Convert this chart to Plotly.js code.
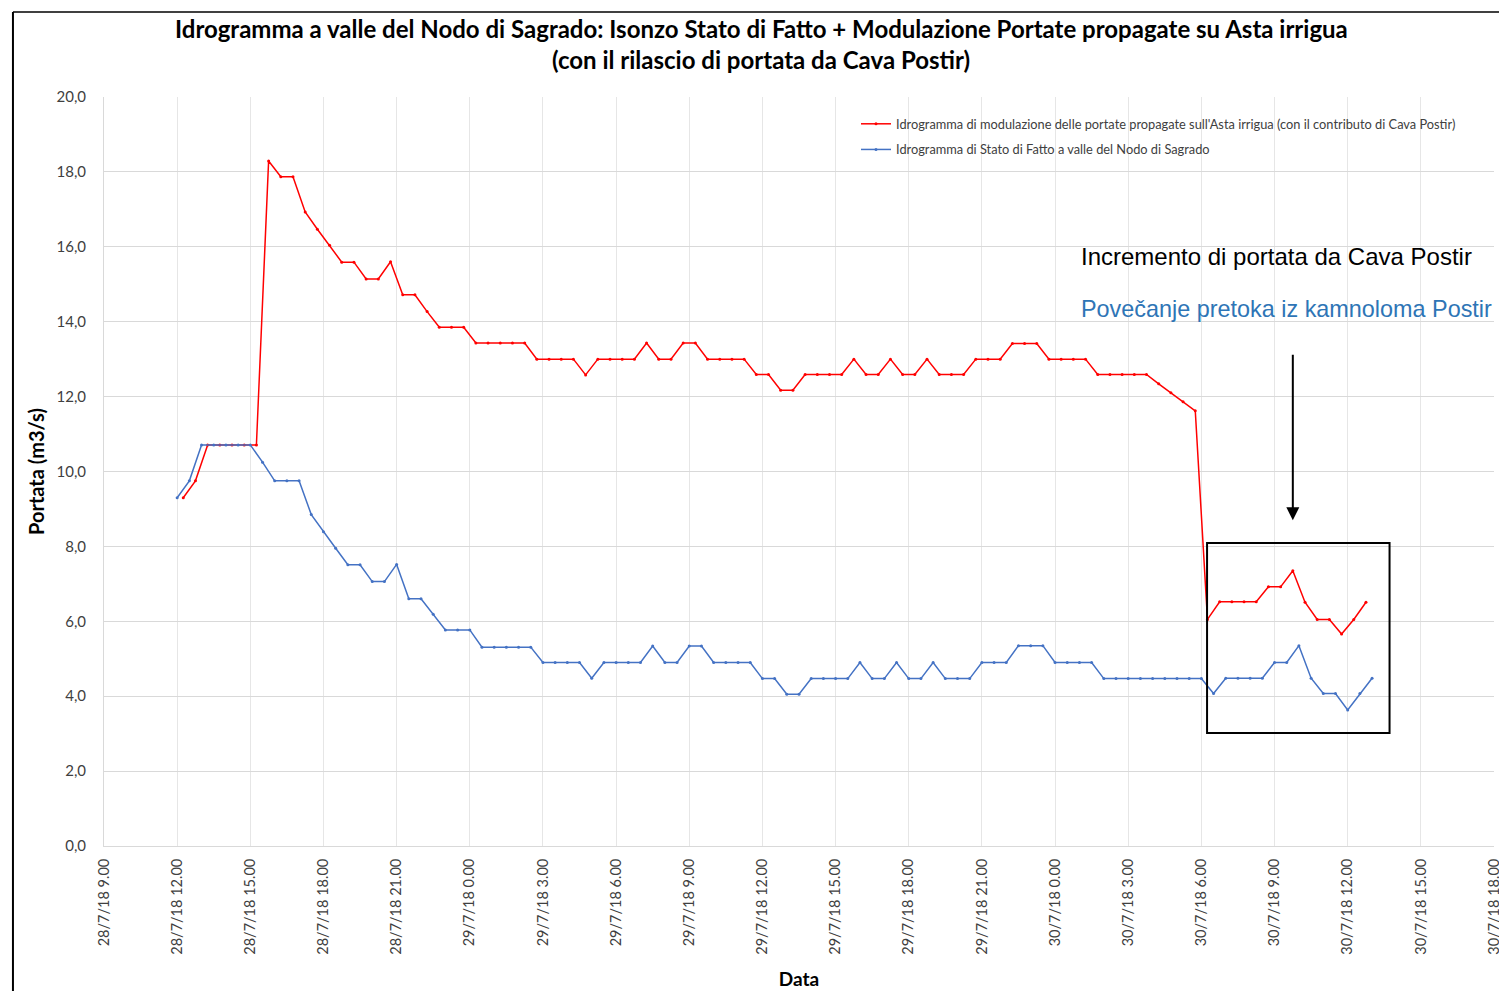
<!DOCTYPE html>
<html>
<head>
<meta charset="utf-8">
<script src="https://cdn.plot.ly/plotly-3.0.1.min.js"></script>
<style>html,body{margin:0;padding:0;background:#fff;}#chart{width:1499px;height:991px;}</style>
</head>
<body>
<div id="chart"></div>
<script>
// Series start times and sampling step (30 minutes)
const redStart = '2018-07-28 12:15';
const blueStart = '2018-07-28 12:00';
const stepMinutes = 30;

// Idrogramma di modulazione delle portate propagate sull'Asta irrigua (con il contributo di Cava Postir)
const redValues = [
  9.30, 9.75, 10.71, 10.71, 10.71, 10.71, 10.71, 18.29, 17.87, 17.87,
  16.93, 16.47, 16.04, 15.59, 15.59, 15.14, 15.14, 15.60, 14.72, 14.72,
  14.27, 13.85, 13.85, 13.85, 13.43, 13.43, 13.43, 13.43, 13.43, 13.00,
  13.00, 13.00, 13.00, 12.58, 13.00, 13.00, 13.00, 13.00, 13.43, 13.00,
  13.00, 13.43, 13.43, 13.00, 13.00, 13.00, 13.00, 12.59, 12.59, 12.17,
  12.17, 12.59, 12.59, 12.59, 12.59, 13.00, 12.59, 12.59, 13.00, 12.59,
  12.59, 13.00, 12.59, 12.59, 12.59, 13.00, 13.00, 13.00, 13.42, 13.42,
  13.42, 13.00, 13.00, 13.00, 13.00, 12.59, 12.59, 12.59, 12.59, 12.59,
  12.34, 12.10, 11.86, 11.62, 6.05, 6.52, 6.52, 6.52, 6.52, 6.92,
  6.92, 7.35, 6.51, 6.05, 6.05, 5.66, 6.05, 6.51
];

// Idrogramma di Stato di Fatto a valle del Nodo di Sagrado
const blueValues = [
  9.30, 9.75, 10.71, 10.71, 10.71, 10.71, 10.71, 10.25, 9.75, 9.75,
  9.75, 8.85, 8.39, 7.95, 7.51, 7.51, 7.06, 7.06, 7.52, 6.60,
  6.60, 6.19, 5.77, 5.77, 5.77, 5.31, 5.31, 5.31, 5.31, 5.31,
  4.90, 4.90, 4.90, 4.90, 4.48, 4.90, 4.90, 4.90, 4.90, 5.34,
  4.90, 4.90, 5.34, 5.34, 4.90, 4.90, 4.90, 4.90, 4.47, 4.47,
  4.05, 4.05, 4.47, 4.47, 4.47, 4.47, 4.90, 4.47, 4.47, 4.90,
  4.47, 4.47, 4.90, 4.47, 4.47, 4.47, 4.90, 4.90, 4.90, 5.35,
  5.35, 5.35, 4.90, 4.90, 4.90, 4.90, 4.47, 4.47, 4.47, 4.47,
  4.47, 4.47, 4.47, 4.47, 4.47, 4.07, 4.48, 4.48, 4.48, 4.48,
  4.90, 4.90, 5.35, 4.48, 4.07, 4.07, 3.63, 4.07, 4.48
];

const redName = "Idrogramma di modulazione delle portate propagate sull'Asta irrigua (con il contributo di Cava Postir)";
const blueName = "Idrogramma di Stato di Fatto a valle del Nodo di Sagrado";

const titleLine1 = "Idrogramma a valle del Nodo di Sagrado: Isonzo Stato di Fatto + Modulazione Portate propagate su Asta irrigua";
const titleLine2 = "(con il rilascio di portata da Cava Postir)";
const yTitle = "Portata (m3/s)";
const xTitle = "Data";
const note1 = "Incremento di portata da Cava Postir";
const note2 = "Povečanje pretoka iz kamnoloma Postir";

function timeAxis(start, n) {
  const p = start.split(/[- :]/).map(Number);
  const base = Date.UTC(p[0], p[1] - 1, p[2], p[3], p[4]);
  const out = [];
  for (let i = 0; i < n; i++) {
    out.push(new Date(base + i * stepMinutes * 60000).toISOString().slice(0, 16).replace('T', ' '));
  }
  return out;
}

const FONT = 'Lato, "Open Sans", sans-serif';
const TITLEFONT = {family: FONT, size: 24, color: '#000000', weight: 'bold'};

const traces = [
  {
    x: timeAxis(redStart, redValues.length), y: redValues, name: redName,
    type: 'scatter', mode: 'lines+markers', legendgroup: 'a',
    line: {color: '#ff0000', width: 1.5}, marker: {color: '#ff0000', size: 3}
  },
  {
    x: timeAxis(blueStart, blueValues.length), y: blueValues, name: blueName,
    type: 'scatter', mode: 'lines+markers', legendgroup: 'b',
    line: {color: '#4472c4', width: 1.5}, marker: {color: '#4472c4', size: 3}
  }
];

const layout = {
  width: 1499, height: 991,
  margin: {l: 104, r: 5, t: 97, b: 145},
  paper_bgcolor: '#ffffff', plot_bgcolor: '#ffffff',
  separators: ',.',
  font: {family: FONT, color: '#404040'},
  showlegend: true,
  legend: {x: 0.541, y: 0.984, xanchor: 'left', yanchor: 'top', bgcolor: 'rgba(0,0,0,0)',
           font: {family: FONT, size: 12.8, color: '#404040'}, tracegroupgap: 6, traceorder: 'grouped'},
  xaxis: {
    type: 'date',
    range: ['2018-07-28 09:00', '2018-07-30 18:00'],
    tick0: '2018-07-28 09:00', dtick: 3 * 3600000,
    tickformat: '%-d/%-m/%y %-H.%M', tickangle: -90,
    tickfont: {family: FONT, size: 14.5, color: '#404040'},
    ticklabeloverflow: 'allow',
    ticks: 'outside', ticklen: 6, tickcolor: 'rgba(0,0,0,0)',
    showgrid: true, gridcolor: '#e6e6e6', gridwidth: 1,
    showline: true, linecolor: '#d9d9d9', linewidth: 1,
    zeroline: false,
    title: {text: xTitle, font: {family: FONT, size: 19, color: '#000000', weight: 'bold'}, standoff: 18}
  },
  yaxis: {
    range: [0, 20], dtick: 2, tickformat: '.1f',
    tickfont: {family: FONT, size: 15, color: '#404040'},
    ticks: 'outside', ticklen: 14, tickcolor: 'rgba(0,0,0,0)',
    showgrid: true, gridcolor: '#d9d9d9', gridwidth: 1,
    showline: true, linecolor: '#d9d9d9', linewidth: 1,
    zeroline: false,
    title: {text: yTitle, font: {family: FONT, size: 20, color: '#000000', weight: 'bold'}, standoff: 6}
  },
  shapes: [
    {type: 'rect', xref: 'x', yref: 'y', x0: '2018-07-30 06:14', x1: '2018-07-30 13:43', y0: 3.02, y1: 8.09,
     line: {color: '#000000', width: 2}},
    {type: 'line', xref: 'paper', yref: 'paper', x0: -0.0655, x1: -0.0655, y0: 1.1135, y1: -0.2,
     line: {color: '#000000', width: 2}},
    {type: 'line', xref: 'paper', yref: 'paper', x0: -0.0655, x1: 1.01, y0: 1.1135, y1: 1.1135,
     line: {color: '#000000', width: 1.5}}
  ],
  annotations: [
    {text: titleLine1, xref: 'paper', yref: 'paper', x: 0.4727, y: 1.0921, xanchor: 'center', yanchor: 'middle',
     showarrow: false, font: TITLEFONT},
    {text: titleLine2, xref: 'paper', yref: 'paper', x: 0.4727, y: 1.0494, xanchor: 'center', yanchor: 'middle',
     showarrow: false, font: TITLEFONT},
    {text: note1, xref: 'paper', yref: 'paper', x: 0.7015, y: 0.7877, xanchor: 'left', yanchor: 'middle',
     showarrow: false, font: {family: 'Liberation Sans, Arial, sans-serif', size: 24, color: '#000000'}},
    {text: note2, xref: 'paper', yref: 'paper', x: 0.7015, y: 0.7169, xanchor: 'left', yanchor: 'middle',
     showarrow: false, font: {family: 'Liberation Sans, Arial, sans-serif', size: 23.4, color: '#2e75b6'}},
    {text: '', xref: 'x', yref: 'y', x: '2018-07-30 09:45', y: 8.7, axref: 'x', ayref: 'y',
     ax: '2018-07-30 09:45', ay: 13.16, showarrow: true, arrowhead: 2, arrowsize: 1.3, arrowwidth: 2,
     arrowcolor: '#000000', standoff: 0}
  ]
};

Plotly.newPlot('chart', traces, layout, {displayModeBar: false, responsive: false});
</script>
</body>
</html>
